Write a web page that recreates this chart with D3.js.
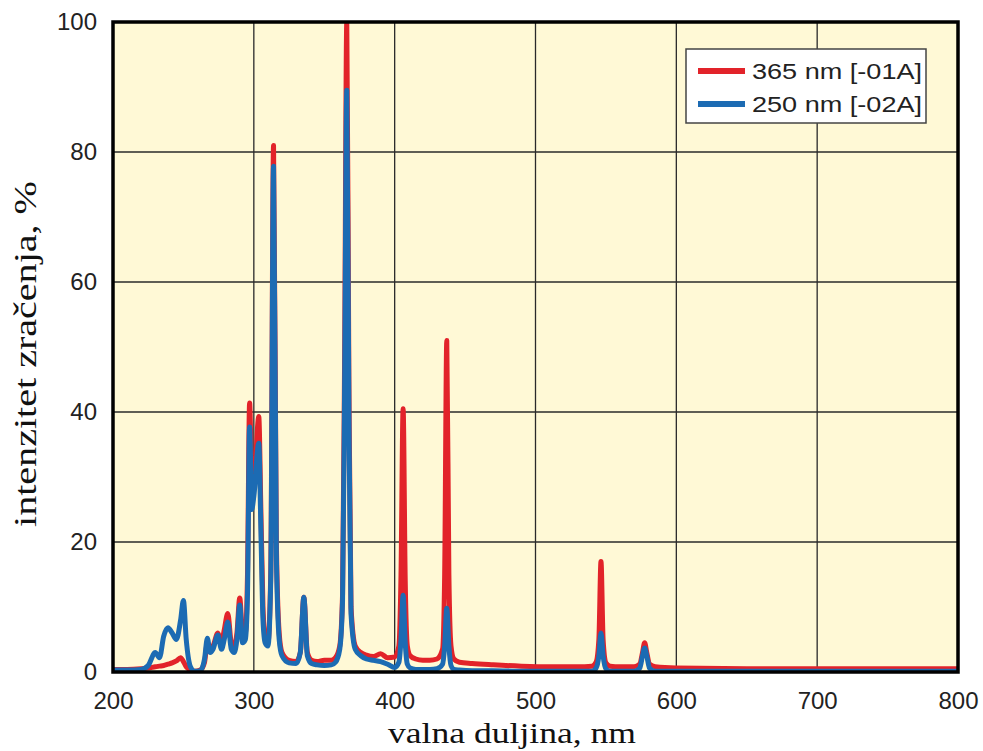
<!DOCTYPE html>
<html>
<head>
<meta charset="utf-8">
<script src="https://cdn.jsdelivr.net/npm/d3@7"></script>
<style>
  html, body { margin: 0; padding: 0; background: #ffffff; }
  svg { display: block; }
</style>
</head>
<body>
<svg id="chart" width="983" height="751"></svg>
<script>
// ---- data ----
const wavelengths = [200,210,220,225,230,233,236,239,242,245,248,250,252,255,258,262,265,267,269,271,274.5,277,279,281.5,284,286,288,290,292,294,295.5,297,298.5,300,303.5,305,306.5,308,310,312,314,316,318,320,325,330,333,335.5,338,341,345,350,355,358,361,363,364.5,366,367.5,369,372,376,380,385,390,395,400,403,404.5,406,407.5,409,411,415,420,425,430,434,435.5,437,438.5,440,442,446,455,470,490,510,530,540,543,545,546.5,548,550,553,560,570,574,576,577.5,579,581,585,600,650,700,750,800];

const red365 = [0.4,0.4,0.5,0.6,0.8,0.9,1.0,1.2,1.4,1.7,2.2,1.6,0.8,0.3,0.1,0.3,1.5,4.5,3.5,4.0,6.0,4.5,6.5,9.0,4.5,4.0,6.0,11.4,6.0,6.0,15,41.4,30,29,39.3,25,10,5.5,4.5,15,81,20,6,3,1.8,1.6,3,11.5,3,1.8,1.6,1.8,1.8,2.2,4,12,50,100,45,10,4,3,2.6,2.4,2.8,2.2,2.3,4,15,40.5,14,4,2.5,2.0,1.8,1.8,2.0,3.5,15,51,15,4,2,1.5,1.3,1.1,0.9,0.8,0.8,0.9,1.5,5,17,5,1.4,0.9,0.8,0.8,1.2,3,4.5,3,1.2,0.8,0.6,0.5,0.5,0.5,0.5];

const blue250 = [0.3,0.3,0.4,1.0,3.0,2.2,5.5,6.8,6.0,5.0,8,11,5,0.8,0.1,0.2,2,5.2,3,3.5,5.7,3.5,5,7.7,3.5,3,5,10.3,4.5,5,12,37.7,25,27,35.2,22,8,4.5,4,14,77.8,18,5,2.5,1.4,1.3,3,11.5,2.5,1.3,1.1,1.0,1.1,1.5,3.5,11,45,89.5,40,9,3.5,2.5,2.0,1.8,1.6,1.2,0.7,1.5,5,11.8,4.5,1.2,0.6,0.4,0.4,0.4,0.5,1.2,4,9.8,4,1,0.4,0.3,0.2,0.2,0.1,0.1,0.1,0.1,0.6,2.5,6,2.5,0.5,0.1,0.1,0.1,0.6,2.5,3.7,2.5,0.6,0.1,0.1,0.1,0.1,0.1,0.1];

const seriesNames = ["365 nm [-01A]", "250 nm [-02A]"];
const seriesColors = ["#e2232a", "#1c6bb3"];
const xTicks = [200,300,400,500,600,700,800];
const yTicks = [0,20,40,60,80,100];
const xLabel = "valna duljina, nm";
const yLabel = "intenzitet zračenja, %";

// ---- layout ----
const svg = d3.select("#chart");
const pL = 113, pR = 958, pT = 22, pB = 672;

const x = d3.scaleLinear().domain([200, 800]).range([pL, pR]);
const y = d3.scaleLinear().domain([0, 100]).range([pB, pT]);

// background
svg.append("rect")
  .attr("x", pL).attr("y", pT)
  .attr("width", pR - pL).attr("height", pB - pT)
  .attr("fill", "#fff9d6");

svg.append("defs").append("clipPath").attr("id", "clip")
  .append("rect")
  .attr("x", pL).attr("y", pT)
  .attr("width", pR - pL).attr("height", pB - pT);

// grid
const grid = svg.append("g");
grid.selectAll("line.v").data(xTicks.slice(1, -1)).enter().append("line")
  .attr("x1", d => x(d)).attr("x2", d => x(d))
  .attr("y1", pT).attr("y2", pB)
  .attr("stroke", "#2a2a2a").attr("stroke-width", 1.3);
grid.selectAll("line.h").data(yTicks.slice(1, -1)).enter().append("line")
  .attr("x1", pL).attr("x2", pR)
  .attr("y1", d => y(d)).attr("y2", d => y(d))
  .attr("stroke", "#2a2a2a").attr("stroke-width", 1.3);

// lines
const seriesData = [red365, blue250].map(vals => wavelengths.map((w, i) => [w, vals[i]]));
const line = d3.line().x(d => x(d[0])).y(d => y(d[1])).curve(d3.curveMonotoneX);
const plot = svg.append("g").attr("clip-path", "url(#clip)");
seriesData.forEach((s, i) => {
  plot.append("path")
    .datum(s)
    .attr("d", line)
    .attr("fill", "none")
    .attr("stroke", seriesColors[i])
    .attr("stroke-width", 5)
    .attr("stroke-linejoin", "round")
    .attr("stroke-linecap", "round");
});

// frame
svg.append("rect")
  .attr("x", pL).attr("y", pT)
  .attr("width", pR - pL).attr("height", pB - pT)
  .attr("fill", "none")
  .attr("stroke", "#000").attr("stroke-width", 3.5);

// axes
const xAxis = svg.append("g")
  .attr("transform", `translate(0,${pB})`)
  .call(d3.axisBottom(x).tickValues(xTicks).tickSize(0).tickPadding(20).tickFormat(d3.format("d")));
xAxis.select(".domain").remove();
xAxis.selectAll("text")
  .attr("font-family", "'Liberation Sans', Arial, sans-serif")
  .attr("font-size", 24).attr("fill", "#222");

const yAxis = svg.append("g")
  .attr("transform", `translate(${pL},0)`)
  .call(d3.axisLeft(y).tickValues(yTicks).tickSize(0).tickPadding(16).tickFormat(d3.format("d")));
yAxis.select(".domain").remove();
yAxis.selectAll("text")
  .attr("font-family", "'Liberation Sans', Arial, sans-serif")
  .attr("font-size", 24).attr("fill", "#222");

// axis titles
svg.append("text")
  .attr("x", 512).attr("y", 743)
  .attr("text-anchor", "middle")
  .attr("font-family", "'Liberation Serif', 'Times New Roman', serif")
  .attr("font-size", 30).attr("fill", "#111")
  .attr("textLength", 248).attr("lengthAdjust", "spacingAndGlyphs")
  .text(xLabel);

svg.append("text")
  .attr("transform", "translate(36,354) rotate(-90)")
  .attr("text-anchor", "middle")
  .attr("font-family", "'Liberation Serif', 'Times New Roman', serif")
  .attr("font-size", 32).attr("fill", "#111")
  .attr("textLength", 346).attr("lengthAdjust", "spacingAndGlyphs")
  .text(yLabel);

// legend
const lg = svg.append("g");
lg.append("rect")
  .attr("x", 686).attr("y", 49).attr("width", 240).attr("height", 74)
  .attr("fill", "#ffffff").attr("stroke", "#444").attr("stroke-width", 1.5);
seriesNames.forEach((name, i) => {
  const ly = 71 + i * 33;
  lg.append("line")
    .attr("x1", 698).attr("x2", 745).attr("y1", ly).attr("y2", ly)
    .attr("stroke", seriesColors[i]).attr("stroke-width", 6);
  lg.append("text")
    .attr("x", 752).attr("y", ly + 8)
    .attr("font-family", "'Liberation Sans', Arial, sans-serif")
    .attr("font-size", 22).attr("fill", "#222")
    .attr("textLength", 170).attr("lengthAdjust", "spacingAndGlyphs")
    .text(name);
});
</script>
</body>
</html>
